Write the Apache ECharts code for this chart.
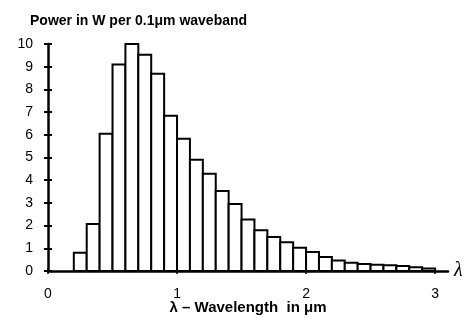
<!DOCTYPE html>
<html><head><meta charset="utf-8">
<script src="https://cdn.jsdelivr.net/npm/echarts@6/dist/echarts.min.js"></script>
<style>html,body{margin:0;padding:0;background:#fff}#c{width:473px;height:327px}</style>
</head><body><div id="c"></div>
<script>
// Waveband start (µm), each band is 0.1 µm wide
var bandStart = [0.2,0.3,0.4,0.5,0.6,0.7,0.8,0.9,1.0,1.1,1.2,1.3,1.4,1.5,1.6,1.7,1.8,1.9,2.0,2.1,2.2,2.3,2.4,2.5,2.6,2.7,2.8,2.9];
var power = [0.8,2.07,6.05,9.1,10.0,9.53,8.69,6.84,5.83,4.9,4.28,3.52,2.95,2.27,1.8,1.5,1.27,1.02,0.84,0.62,0.46,0.36,0.31,0.28,0.25,0.22,0.17,0.11];
var bandWidth = 0.1;
var xTicks = [0,1,2,3];
var yTicks = [0,1,2,3,4,5,6,7,8,9,10];

var data = bandStart.map(function(s,i){return [s, s+bandWidth, power[i]];});
var chart = echarts.init(document.getElementById('c'));
var font = 'Liberation Sans, Arial, sans-serif';
chart.setOption({
  animation:false,
  title:{text:'Power in W per 0.1\u03bcm waveband',left:30,top:14,padding:0,
    textStyle:{fontFamily:font,fontWeight:'bold',fontSize:14,color:'#000'}},
  grid:{left:48,right:25,top:44,bottom:56},
  xAxis:[{type:'value',min:0,max:3.1,
    name:'\u03bb',nameLocation:'end',nameGap:6,
    nameTextStyle:{fontFamily:'Liberation Serif, serif',fontStyle:'italic',fontSize:20,color:'#000',verticalAlign:'middle'},
    axisLine:{lineStyle:{color:'#000',width:2.5}},
    axisTick:{show:true,length:3,lineStyle:{color:'#000',width:1.5},customValues:xTicks},
    axisLabel:{customValues:xTicks,margin:16,fontFamily:font,fontSize:14,color:'#000'},
    splitLine:{show:false}},
    {type:'value',min:0,max:3.1,position:'bottom',
    name:'\u03bb \u2013 Wavelength  in \u03bcm',nameLocation:'middle',nameGap:29,
    nameTextStyle:{fontFamily:font,fontWeight:'bold',fontSize:15,color:'#000'},
    axisLine:{show:false},
    axisTick:{show:true,inside:true,length:3,lineStyle:{color:'#000',width:1.5},customValues:xTicks},
    axisLabel:{show:false},splitLine:{show:false}}],
  yAxis:[{type:'value',min:0,max:10,interval:1,
    axisLine:{show:true,lineStyle:{color:'#000',width:2.5}},
    axisTick:{show:true,length:4,lineStyle:{color:'#000',width:2}},
    axisLabel:{margin:15,fontFamily:font,fontSize:14,color:'#000'},
    splitLine:{show:false}},
    {type:'value',min:0,max:10,interval:1,position:'left',
    axisLine:{show:false},
    axisTick:{show:true,inside:true,length:4,lineStyle:{color:'#000',width:2}},
    axisLabel:{show:false},splitLine:{show:false}}],
  series:[{type:'custom',xAxisIndex:0,yAxisIndex:0,
    encode:{x:[0,1],y:2},
    data:data,
    renderItem:function(params,api){
      var p0 = api.coord([api.value(0), api.value(2)]);
      var p1 = api.coord([api.value(1), 0]);
      return {type:'rect',shape:{x:p0[0],y:p0[1],width:p1[0]-p0[0],height:p1[1]-p0[1]},
        style:{fill:'#fff',stroke:'#000',lineWidth:2}};
    }}]
});
</script></body></html>
